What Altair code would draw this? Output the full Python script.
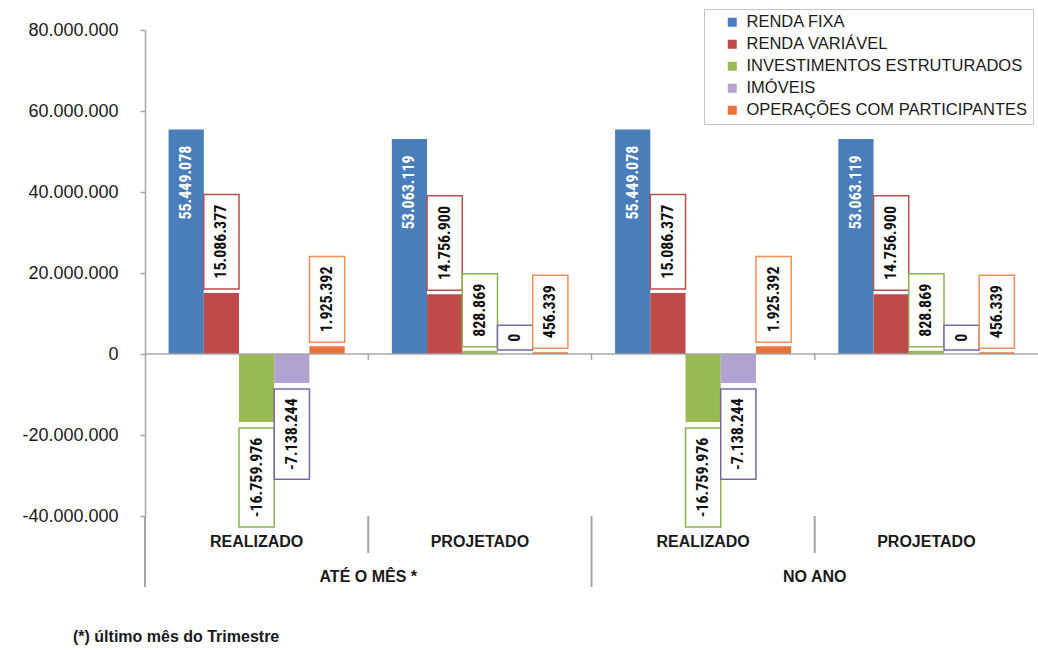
import altair as alt
import pandas as pd

# ---------------- data ----------------
groups = ["REALIZADO", "PROJETADO", "REALIZADO", "PROJETADO"]
periods = ["ATÉ O MÊS *", "ATÉ O MÊS *", "NO ANO", "NO ANO"]
series = ["RENDA FIXA", "RENDA VARIÁVEL", "INVESTIMENTOS ESTRUTURADOS",
          "IMÓVEIS", "OPERAÇÕES COM PARTICIPANTES"]
renda_fixa = [55449078, 53063119, 55449078, 53063119]
renda_variavel = [15086377, 14756900, 15086377, 14756900]
investimentos = [-16759976, 828869, -16759976, 828869]
imoveis = [-7138244, 0, -7138244, 0]
operacoes = [1925392, 456339, 1925392, 456339]
y_ticks = [-40000000, -20000000, 0, 20000000, 40000000, 60000000, 80000000]
footnote = "(*) último mês do Trimestre"

bar_colors = ["#4A7EBB", "#BE4B48", "#98B954", "#B1A3CF", "#E8723A"]
box_colors = ["#4A7EBB", "#B5504D", "#8FB052", "#7A68A6", "#EE9056"]

# ---------------- layout ----------------
W, H = 893, 486
Y_MIN, Y_MAX = -40000000, 80000000
upp = (Y_MAX - Y_MIN) / H          # data units per pixel
LABEL_FONT = "Roboto Condensed, Liberation Sans, sans-serif"
LABEL_SIZE = 16
BASE_FONT = "Liberation Sans, Arial, sans-serif"

keys = [f"G{i + 1}" for i in range(len(groups))]
values_by_series = [renda_fixa, renda_variavel, investimentos, imoveis, operacoes]


def fmt(v):
    return f"{v:,}".replace(",", ".")


def text_px(s):
    w = 0.0
    for ch in s:
        if ch.isdigit():
            w += 0.55
        elif ch == ".":
            w += 0.25
        else:
            w += 0.30
    return w * LABEL_SIZE


rows = []
for gi, key in enumerate(keys):
    for si, name in enumerate(series):
        v = values_by_series[si][gi]
        lab = fmt(v)
        tl = text_px(lab)
        box = tl + 16
        if si == 0:
            center = v - (14 + tl / 2) * upp
            lo = hi = None
        elif v >= 0:
            lo = v + 4 * upp
            hi = lo + box * upp
            center = (lo + hi) / 2
        else:
            hi = v - 6 * upp
            lo = hi - box * upp
            center = (lo + hi) / 2
        rows.append(dict(key=key, group=groups[gi], period=periods[gi],
                         series=name, value=v, label=lab, center=center,
                         lo=lo, hi=hi, hasbox=si != 0,
                         txtcolor="white" if si == 0 else "#111111"))
df = pd.DataFrame(rows)

grp_rows = []
for gi, key in enumerate(keys):
    first = gi == 0 or periods[gi] != periods[gi - 1]
    grp_rows.append(dict(key=key, group=groups[gi], period=periods[gi],
                         long=first, notfirst=gi > 0,
                         zero=0, tick_end=-6 * upp))
gdf = pd.DataFrame(grp_rows)

per_rows = []
for gi, key in enumerate(keys):
    if gi == 0 or periods[gi] != periods[gi - 1]:
        per_rows.append(dict(key=key, period=periods[gi]))
pdf = pd.DataFrame(per_rows)

# ---------------- scales / axes ----------------
x_scale = alt.Scale(domain=keys, paddingInner=0, paddingOuter=0)
xo_scale = alt.Scale(domain=series, paddingInner=0, paddingOuter=0.67)
y_scale = alt.Scale(domain=[Y_MIN, Y_MAX], nice=False, zero=False)
y_axis = alt.Axis(
    values=y_ticks, title=None, grid=False,
    labelExpr="(datum.value < 0 ? '-' : '') + replace(format(abs(datum.value), ','), regexp(',', 'g'), '.')",
    labelFont=BASE_FONT, labelFontSize=18, labelColor="#1a1a1a",
    labelPadding=22, tickSize=5, tickColor="#A6A6A6", tickWidth=1.5,
    domainColor="#A6A6A6", domainWidth=1.5,
)

X = lambda **kw: alt.X("key:N", scale=x_scale, axis=None, **kw)
XO = alt.XOffset("series:N", scale=xo_scale)

base = alt.Chart(df)

bars = base.mark_bar().encode(
    x=X(), xOffset=XO,
    y=alt.Y("value:Q", scale=y_scale, axis=y_axis),
    color=alt.Color(
        "series:N",
        scale=alt.Scale(domain=series, range=bar_colors),
        legend=alt.Legend(
            title=None, orient="none", legendX=559, legendY=-21,
            symbolType="square", symbolSize=81, symbolStrokeWidth=0,
            labelFont=BASE_FONT, labelFontSize=16.5, labelColor="#1a1a1a",
            labelLimit=400, rowPadding=5, padding=5, symbolOffset=15,
            labelOffset=6, strokeColor="#C4C4C4", fillColor="white",
        ),
    ),
)

zero_line = alt.Chart(pd.DataFrame({"zero": [0]})).mark_rule(
    color="#A6A6A6", strokeWidth=1.5
).encode(y=alt.Y("zero:Q", scale=y_scale, axis=y_axis))

boxes = base.transform_filter("datum.hasbox").mark_bar(
    fill="white", strokeWidth=1.5
).encode(
    x=X(), xOffset=XO,
    y=alt.Y("lo:Q", scale=y_scale, axis=y_axis), y2="hi:Q",
    stroke=alt.Stroke("series:N", scale=alt.Scale(domain=series, range=box_colors),
                      legend=None),
)

labels = base.mark_text(
    angle=270, align="center", baseline="middle",
    font=LABEL_FONT, fontSize=LABEL_SIZE, fontWeight="bold",
).encode(
    x=X(), xOffset=XO,
    y=alt.Y("center:Q", scale=y_scale, axis=y_axis),
    text="label:N",
    fill=alt.Fill("txtcolor:N", scale=None, legend=None),
)

gbase = alt.Chart(gdf)
sep_short = gbase.transform_filter("!datum.long").mark_rule(
    color="#A6A6A6", strokeWidth=2
).encode(x=X(bandPosition=0), y=alt.value(H), y2=alt.value(H + 37))
sep_long = gbase.transform_filter("datum.long").mark_rule(
    color="#A6A6A6", strokeWidth=2
).encode(x=X(bandPosition=0), y=alt.value(H), y2=alt.value(H + 71))
zero_ticks = gbase.transform_filter("datum.notfirst").mark_rule(
    color="#A6A6A6", strokeWidth=1.5
).encode(x=X(bandPosition=0),
         y=alt.Y("zero:Q", scale=y_scale, axis=y_axis), y2="tick_end:Q")

cat_labels = gbase.mark_text(
    font=BASE_FONT, fontSize=16, fontWeight="bold", color="#1a1a1a",
    baseline="middle", align="center",
).encode(x=X(), y=alt.value(512), text="group:N")

per_labels = alt.Chart(pdf).mark_text(
    font=BASE_FONT, fontSize=16, fontWeight="bold", color="#1a1a1a",
    baseline="middle", align="center",
).encode(x=X(bandPosition=1), y=alt.value(547), text="period:N")

foot = alt.Chart(pd.DataFrame({"t": [footnote]})).mark_text(
    font=BASE_FONT, fontSize=16, fontWeight="bold", color="#1a1a1a",
    align="left", baseline="middle",
).encode(x=alt.value(-72), y=alt.value(607), text="t:N")

chart = alt.layer(
    bars, zero_line, zero_ticks, boxes, labels,
    sep_short, sep_long, cat_labels, per_labels, foot,
).properties(
    width=W, height=H,
    autosize=alt.AutoSizeParams(type="none"),
    padding={"left": 145, "top": 30, "right": 0, "bottom": 134},
    background="white",
).configure_view(stroke=None)

chart.save("out.html", embed_options={"renderer": "svg", "actions": False})
